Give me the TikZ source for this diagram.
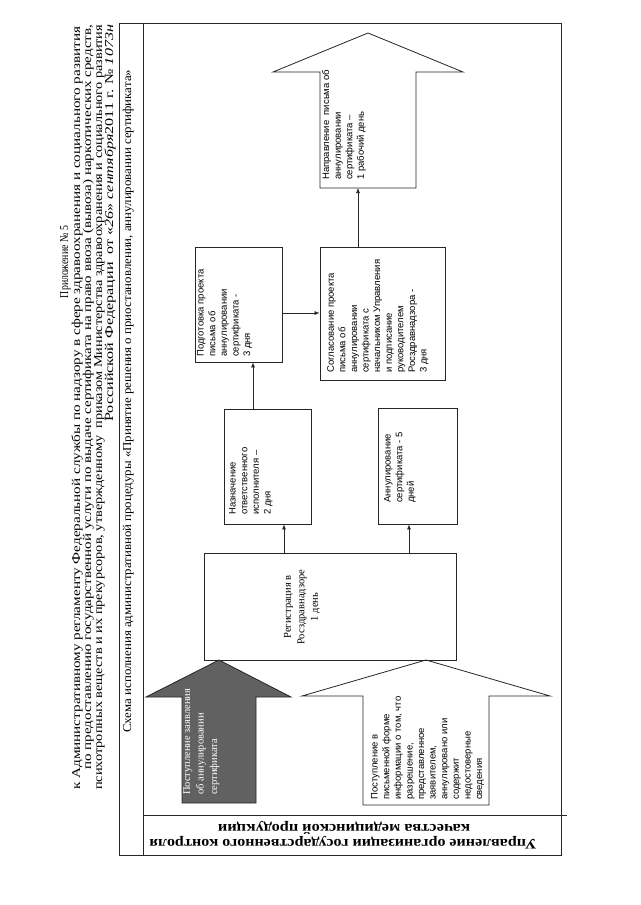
\documentclass[tikz,border=0pt]{standalone}
\usepackage{fontspec}
\usepackage{graphicx}
\setmainfont{Liberation Serif}
\newfontfamily\sansf{Liberation Sans}
\usetikzlibrary{arrows.meta}
\newsavebox\fitbox
\newlength\fitlen
\newcommand\fitw[2]{\sbox\fitbox{#2}\setlength\fitlen{\wd\fitbox}\pgfmathsetmacro\fitr{#1/\fitlen}\scalebox{\fitr}[1]{\usebox\fitbox}}
\tikzset{
  frame/.style={draw=black!85, line width=0.8pt},
  boxnode/.style={draw=black!85, line width=0.8pt, rectangle, inner sep=0pt},
  conn/.style={draw=black!85, line width=0.7pt, -{Latex[length=5pt,width=4pt]}},
  rtext/.style={rotate=90, anchor=north west, inner sep=0pt, align=left, font=\sansf\fontsize{9.5}{11.6}\selectfont},
  stext/.style={rotate=90, inner sep=0pt, align=left, font=\fontsize{10.5}{13.5}\selectfont},
  hdr/.style={rotate=90, anchor=base west, inner sep=0pt, font=\fontsize{12}{14}\selectfont},
  bot/.style={rotate=180, anchor=base, inner sep=0pt, font=\bfseries\fontsize{14.5}{15}\selectfont},
}
\begin{document}
\begin{tikzpicture}[x=1pt,y=-1pt]
\useasboundingbox (0,0) rectangle (640,905);
\fill[white] (0,0) rectangle (640,905);

% ---- header ----
\node[hdr, anchor=base] (appx) at (68,262) {\fitw{72}{Приложение № 5}};
\node[hdr] (h1) at (80,790) {\fitw{763}{к Административному регламенту Федеральной службы по надзору в сфере здравоохранения и социального развития}};
\node[hdr] (h2) at (91,770) {\fitw{745}{по предоставлению государственной услуги по выдаче сертификата на право ввоза (вывоза) наркотических средств,}};
\node[hdr] (h3) at (102,790) {\fitw{765}{психотропных веществ и их прекурсоров, утвержденному \ приказом Министерства здравоохранения и социального развития}};
\node[hdr] (h4) at (113,422) {\fitw{397}{Российской Федерации \ от «\textit{26}» \textit{сентября}2011 г. № \textit{1073н}}};

% ---- frame ----
\draw[frame] (119,23) rectangle (561,855);
\draw[frame] (143,23) -- (143,855);
\draw[frame] (143,815) -- (567,815);
\node[hdr] (title) at (131,733) {\fitw{663}{Схема исполнения административной процедуры «Принятие решения о приостановлении, аннулировании сертификата»}};

% ---- bottom label (upside down) ----
\node[bot] (dept1) at (343,839.5) {\fitw{387}{Управление организации государственного контроля}};
\node[bot] (dept2) at (344,824.5) {\fitw{252}{качества медицинской продукции}};

% ---- big arrows ----
\draw[frame, fill=black!62] (182,803) -- (182,697) -- (146,697) -- (219,660) -- (291,697) -- (256,697) -- (256,803) -- cycle;
\node[stext, anchor=north west, text=white] (in1) at (183,795) {Поступление заявления\\об аннулировании\\сертификата};

\draw[frame, fill=white] (363,805) -- (363,696) -- (302,696) -- (426,660) -- (550,696) -- (489,696) -- (489,805) -- cycle;
\node[rtext] (in2) at (371,800) {Поступление в\\письменной форме\\информации о том, что\\разрешение,\\представленное\\заявителем,\\аннулировано или\\содержит\\недостоверные\\сведения};

\draw[frame] (320,188) -- (320,72) -- (273,72) -- (368,33) -- (463,72) -- (416,72) -- (416,188) -- cycle;
\coordinate (napr) at (368,188);
\node[rtext] (out) at (322,180) {Направление\ \ письма об\\аннулировании\\сертификата –\\1 рабочий день};

% ---- boxes ----
\node[boxnode, minimum width=252pt, minimum height=107pt] (reg) at (330,606.5) {};
\node[stext, align=center] (regt) at (302,607) {Регистрация в\\Росздравнадзоре\\1 день};

\node[boxnode, minimum width=87pt, minimum height=115pt] (naz) at (267.5,466.5) {};
\node[rtext] (nazt) at (229,515) {Назначение\\ответственного\\исполнителя –\\2 дня};

\node[boxnode, minimum width=79pt, minimum height=116pt] (ann) at (417.5,466) {};
\node[rtext] (annt) at (384,503) {Аннулирование\\сертификата - 5\\дней};

\node[boxnode, minimum width=87pt, minimum height=115pt] (pod) at (238.5,304.5) {};
\node[rtext] (podt) at (197,357) {Подготовка проекта\\письма об\\аннулировании\\сертификата -\\3 дня};

\node[boxnode, minimum width=125pt, minimum height=133pt] (sog) at (382.5,313.5) {};
\node[rtext] (sogt) at (327,373) {Согласование проекта\\письма об\\аннулировании\\сертификата с\\начальником Управления\\и подписание\\руководителем\\Росздравнадзора -\\3 дня};

% ---- connectors ----
\coordinate (x1) at (284,0);
\coordinate (x2) at (409,0);
\coordinate (x3) at (253,0);
\coordinate (y4) at (0,313);
\coordinate (x5) at (358,0);
\draw[conn] (reg.north -| x1) -- (naz.south -| x1);
\draw[conn] (reg.north -| x2) -- (ann.south -| x2);
\draw[conn] (naz.north -| x3) -- (pod.south -| x3);
\draw[conn] (pod.east |- y4) -- (sog.west |- y4);
\draw[conn] (sog.north -| x5) -- (napr -| x5);
\end{tikzpicture}
\end{document}
